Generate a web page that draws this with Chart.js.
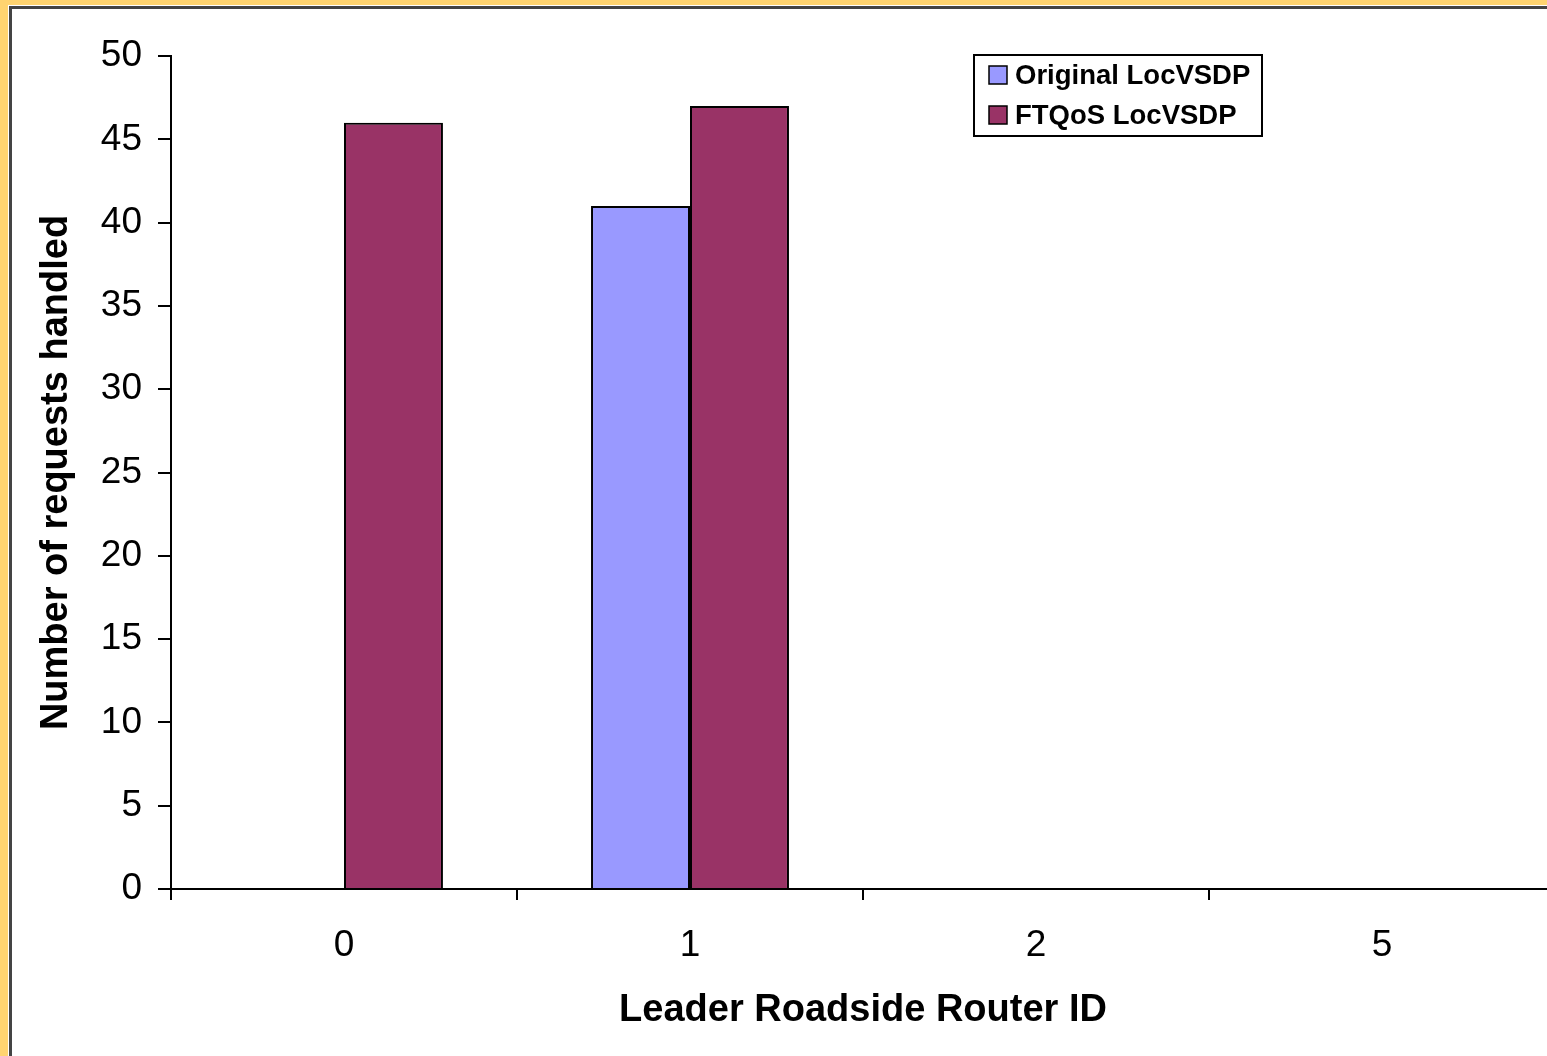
<!DOCTYPE html>
<html>
<head>
<meta charset="utf-8">
<script src="https://cdn.jsdelivr.net/npm/chart.js@4/dist/chart.umd.min.js"></script>
<style>
  html, body { margin: 0; padding: 0; overflow: hidden; background: #FFD470; }
  #page { position: absolute; left: 8px; top: 5px; width: 1600px; height: 1100px; background: #fff; }
  #edge { position: absolute; left: 9px; top: 6px; width: 1600px; height: 1100px;
          border-left: 3px solid #444; border-top: 3px solid #444; }
  #wrap { position: absolute; left: 0; top: 0; width: 1560px; height: 1056px; }
</style>
</head>
<body>
<div id="page"></div>
<div id="edge"></div>
<div id="wrap"><canvas id="barChart"></canvas></div>
<script>
var routerIds = ["0", "1", "2", "5"];
var originalValues = [0, 41, 0, 0];
var ftqosValues = [46, 47, 0, 0];
var seriesNames = ["Original LocVSDP", "FTQoS LocVSDP"];
var seriesColors = ["#9999FF", "#993366"];

// legend box drawn at the spot it sits in the original figure
var boxLegend = {
    id: 'boxLegend',
    afterDraw: function (chart) {
        var ctx = chart.ctx;
        ctx.save();
        ctx.strokeStyle = "#000";
        ctx.lineWidth = 2;
        ctx.strokeRect(974, 55, 288, 81);
        ctx.font = "bold 27.5px 'Liberation Sans', Arial, sans-serif";
        ctx.textBaseline = "middle";
        chart.data.datasets.forEach(function (ds, i) {
            var y = 75 + i * 40;
            ctx.fillStyle = ds.backgroundColor;
            ctx.fillRect(989, y - 9, 18, 18);
            ctx.lineWidth = 1.5;
            ctx.strokeRect(989, y - 9, 18, 18);
            ctx.fillStyle = "#000";
            ctx.fillText(ds.label, 1015, y + 1);
        });
        ctx.restore();
    }
};

var ctx = document.getElementById("barChart");

var chart = new Chart(ctx, {
    type: 'bar',
    data: {
        labels: routerIds,
        datasets: [
            {
                label: seriesNames[0],
                data: originalValues,
                backgroundColor: seriesColors[0],
                borderColor: "#000",
                borderWidth: 2
            },
            {
                label: seriesNames[1],
                data: ftqosValues,
                backgroundColor: seriesColors[1],
                borderColor: "#000",
                borderWidth: 2
            }
        ]
    },
    options: {
        responsive: true,
        maintainAspectRatio: false,
        animation: false,
        devicePixelRatio: 1,
        layout: { padding: { left: 0, top: 56, right: 5, bottom: 0 } },
        datasets: { bar: { categoryPercentage: 0.572, barPercentage: 1 } },
        plugins: {
            legend: { display: false },
            tooltip: { enabled: false }
        },
        scales: {
            x: {
                grid: { offset: true, drawOnChartArea: false, tickLength: 11, color: "#000", lineWidth: 2 },
                border: { color: "#000", width: 2 },
                ticks: {
                    color: "#000", padding: 24,
                    font: { family: "'Liberation Sans', Arial, sans-serif", size: 37 }
                },
                title: {
                    display: true, text: "Leader Roadside Router ID", color: "#000",
                    padding: { top: 0, bottom: 26 },
                    font: { family: "'Liberation Sans', Arial, sans-serif", size: 38, weight: "bold", lineHeight: 1 }
                },
                afterFit: function (scale) { scale.height = 167; }
            },
            y: {
                min: 0,
                max: 50,
                grid: { drawOnChartArea: false, tickLength: 13, color: "#000", lineWidth: 2 },
                border: { color: "#000", width: 2 },
                ticks: {
                    stepSize: 5, color: "#000", padding: 16,
                    font: { family: "'Liberation Sans', Arial, sans-serif", size: 37 }
                },
                title: {
                    display: true, text: "Number of requests handled", color: "#000",
                    padding: { top: 38, bottom: 0 },
                    font: { family: "'Liberation Sans', Arial, sans-serif", size: 38, weight: "bold", lineHeight: 1 }
                },
                afterFit: function (scale) { scale.width = 171; }
            }
        }
    },
    plugins: [boxLegend]
});
</script>
</body>
</html>
